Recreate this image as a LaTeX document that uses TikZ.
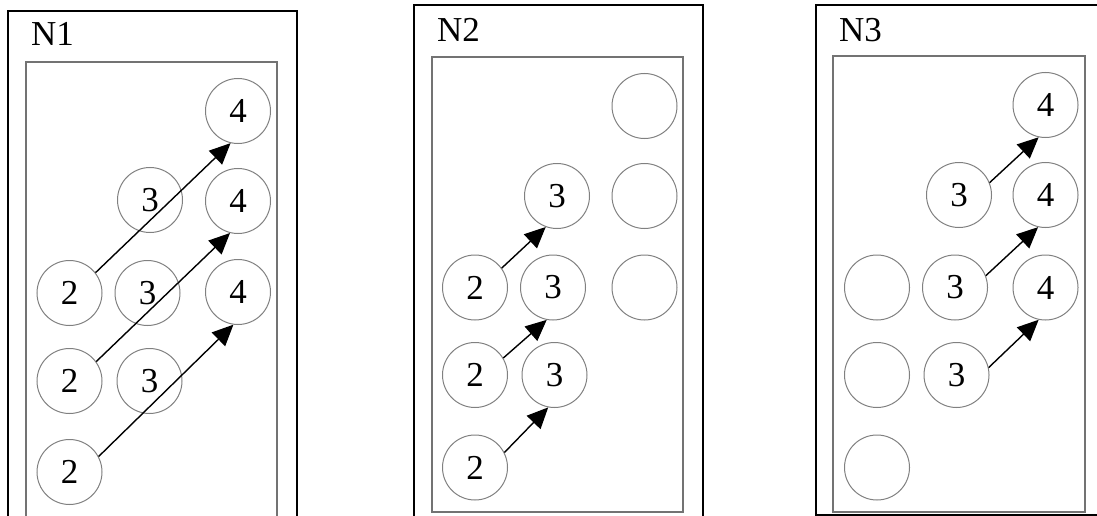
\documentclass[tikz,border=0pt]{standalone}
\usepackage{fontspec}
\setmainfont{Liberation Serif}
\usetikzlibrary{arrows.meta}
\tikzset{
  ball/.style={circle, draw=black!50, line width=1pt, minimum size=65pt, inner sep=0pt,
    font=\fontsize{35}{40}\selectfont},
  outerbox/.style={draw=black, line width=2pt},
  innerbox/.style={draw=black!55, line width=1.5pt},
  link/.style={-{Triangle[length=21pt,width=19pt]}, line width=1.4pt},
  paneltitle/.style={anchor=base west, inner sep=0pt, font=\fontsize{35}{40}\selectfont}
}
\begin{document}
\begin{tikzpicture}[x=1pt,y=-1pt]
\useasboundingbox (0,0) rectangle (1097,516);
% ---------- panel 1 ----------
\draw[outerbox] (8,520) -- (8,11) -- (297,11) -- (297,520);
\draw[innerbox] (26,520) -- (26,62) -- (277,62) -- (277,520);
\node[paneltitle] (t1) at (31,46) {N1};
\node[ball] (a4) at (238,111) {4};
\node[ball] (a3) at (150,200) {3};
\node[ball] (b4) at (238,201) {4};
\node[ball] (a2) at (69.5,293) {2};
\node[ball] (b3) at (147.5,293) {3};
\node[ball] (c4) at (238,292) {4};
\node[ball] (b2) at (69.5,381) {2};
\node[ball] (c3) at (149.5,381) {3};
\node[ball] (c2) at (69.5,472) {2};
\draw[link] (a2.38) -- (a4.257);
\draw[link] (b2.36) -- (b4.256);
\draw[link] (c2.28) -- (c4.262);
% ---------- panel 2 ----------
\draw[outerbox] (414,520) -- (414,5) -- (703,5) -- (703,520);
\draw[innerbox] (432,57) rectangle (683,512);
\node[paneltitle] (t2) at (437,42) {N2};
\node[ball] (qe1) at (644.5,106) {};
\node[ball] (q3a) at (557,196) {3};
\node[ball] (qe2) at (644.5,196) {};
\node[ball] (q2a) at (475,287.5) {2};
\node[ball] (q3b) at (553,287.5) {3};
\node[ball] (qe3) at (644.5,287.5) {};
\node[ball] (q2b) at (475,375) {2};
\node[ball] (q3c) at (554.5,375) {3};
\node[ball] (q2c) at (475,467.5) {2};
\draw[link] (q2a.36) -- (q3a.250);
\draw[link] (q2b.31) -- (q3b.259);
\draw[link] (q2c.27) -- (q3c.259);
% ---------- panel 3 ----------
\draw[outerbox] (1100,5) -- (816,5) -- (816,515) -- (1100,515);
\draw[innerbox] (833,56) rectangle (1085,512);
\node[paneltitle] (t3) at (839,42) {N3};
\node[ball] (r4a) at (1045.5,105) {4};
\node[ball] (r3a) at (959,195) {3};
\node[ball] (r4b) at (1045.5,195) {4};
\node[ball] (re1) at (877,287.5) {};
\node[ball] (r3b) at (955,287.5) {3};
\node[ball] (r4c) at (1045.5,287.5) {4};
\node[ball] (re2) at (877,375) {};
\node[ball] (r3c) at (956.5,375) {3};
\node[ball] (re3) at (877,467.5) {};
\draw[link] (r3a.22) -- (r4a.258);
\draw[link] (r3b.21) -- (r4b.257);
\draw[link] (r3c.13) -- (r4c.258);
\end{tikzpicture}
\end{document}
